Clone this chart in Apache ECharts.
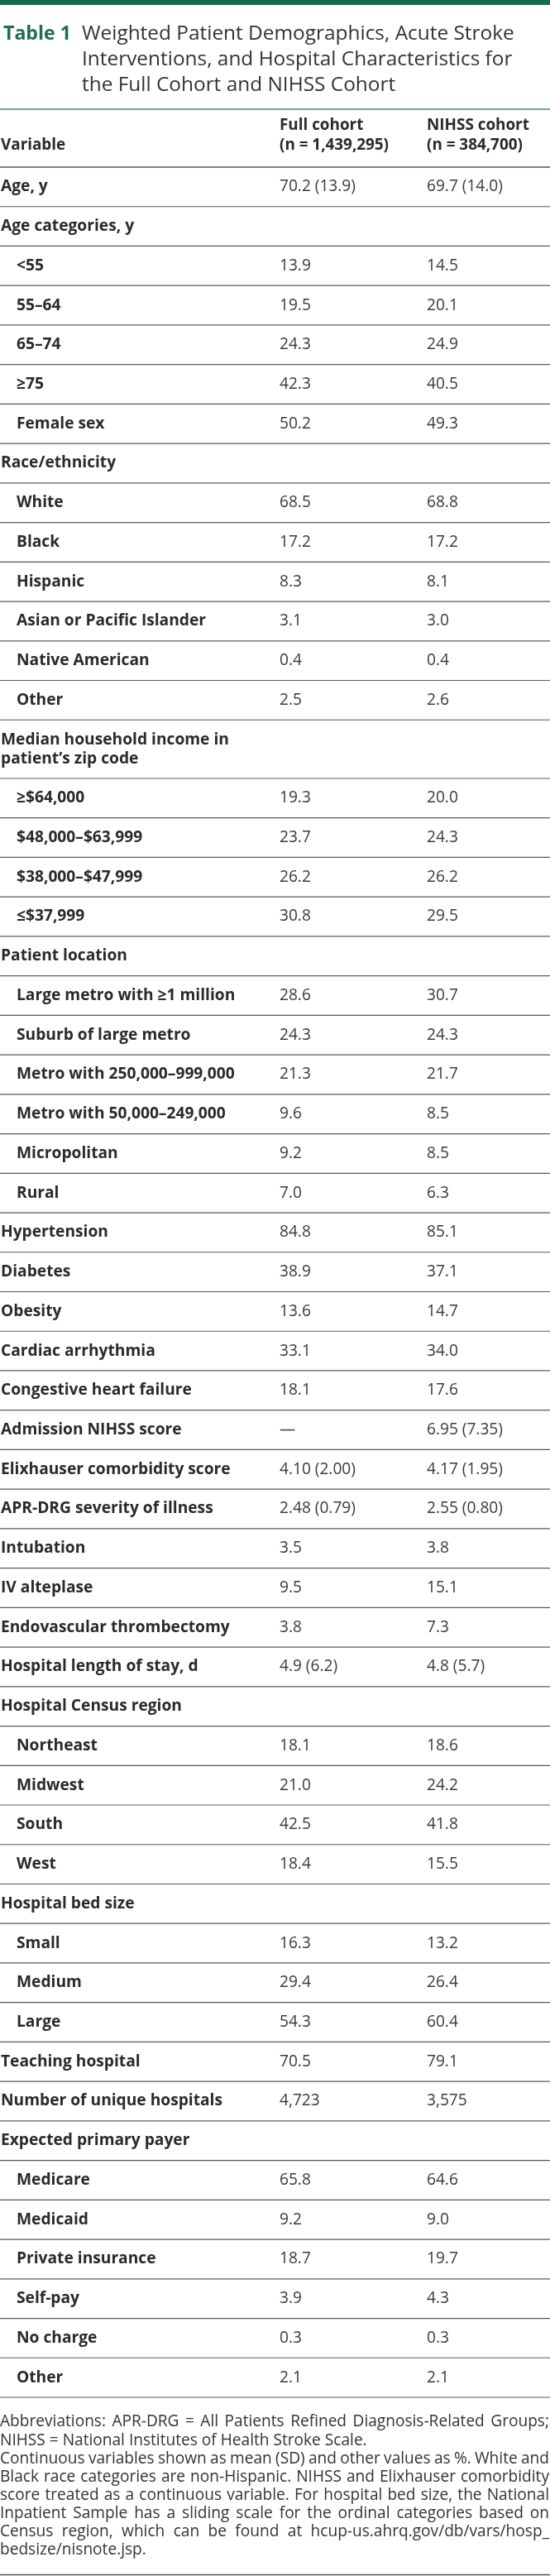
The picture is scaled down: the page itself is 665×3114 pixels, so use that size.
<!DOCTYPE html>
<html>
<head>
<meta charset="utf-8">
<script src="https://cdn.jsdelivr.net/npm/echarts@6/dist/echarts.min.js"></script>
<style>
html,body{margin:0;padding:0;background:#fff;}
#chart{width:665px;height:3114px;}
</style>
</head>
<body>
<div id="chart"></div>
<script>
// ---------- DATA ----------
const tableLabel = "Table 1";
const titleLines = [
  "Weighted Patient Demographics, Acute Stroke",
  "Interventions, and Hospital Characteristics for",
  "the Full Cohort and NIHSS Cohort"
];
const headerVariable = "Variable";
const headerFull = ["Full cohort", "(n = 1,439,295)"];
const headerNihss = ["NIHSS cohort", "(n = 384,700)"];

const rowLabels = [
  "Age, y","Age categories, y","<55","55–64","65–74","≥75","Female sex",
  "Race/ethnicity","White","Black","Hispanic","Asian or Pacific Islander","Native American","Other",
  "Median household income in\npatient’s zip code","≥$64,000","$48,000–$63,999","$38,000–$47,999","≤$37,999",
  "Patient location","Large metro with ≥1 million","Suburb of large metro","Metro with 250,000–999,000",
  "Metro with 50,000–249,000","Micropolitan","Rural",
  "Hypertension","Diabetes","Obesity","Cardiac arrhythmia","Congestive heart failure",
  "Admission NIHSS score","Elixhauser comorbidity score","APR-DRG severity of illness",
  "Intubation","IV alteplase","Endovascular thrombectomy","Hospital length of stay, d",
  "Hospital Census region","Northeast","Midwest","South","West",
  "Hospital bed size","Small","Medium","Large",
  "Teaching hospital","Number of unique hospitals",
  "Expected primary payer","Medicare","Medicaid","Private insurance","Self-pay","No charge","Other"
];
const rowLevel = [
  0,0,1,1,1,1,1,
  0,1,1,1,1,1,1,
  0,1,1,1,1,
  0,1,1,1,1,1,1,
  0,0,0,0,0,
  0,0,0,
  0,0,0,0,
  0,1,1,1,1,
  0,1,1,1,
  0,0,
  0,1,1,1,1,1,1
];
const fullCohort = [
  "70.2 (13.9)","","13.9","19.5","24.3","42.3","50.2",
  "","68.5","17.2","8.3","3.1","0.4","2.5",
  "","19.3","23.7","26.2","30.8",
  "","28.6","24.3","21.3","9.6","9.2","7.0",
  "84.8","38.9","13.6","33.1","18.1",
  "—","4.10 (2.00)","2.48 (0.79)",
  "3.5","9.5","3.8","4.9 (6.2)",
  "","18.1","21.0","42.5","18.4",
  "","16.3","29.4","54.3",
  "70.5","4,723",
  "","65.8","9.2","18.7","3.9","0.3","2.1"
];
const nihssCohort = [
  "69.7 (14.0)","","14.5","20.1","24.9","40.5","49.3",
  "","68.8","17.2","8.1","3.0","0.4","2.6",
  "","20.0","24.3","26.2","29.5",
  "","30.7","24.3","21.7","8.5","8.5","6.3",
  "85.1","37.1","14.7","34.0","17.6",
  "6.95 (7.35)","4.17 (1.95)","2.55 (0.80)",
  "3.8","15.1","7.3","4.8 (5.7)",
  "","18.6","24.2","41.8","15.5",
  "","13.2","26.4","60.4",
  "79.1","3,575",
  "","64.6","9.0","19.7","4.3","0.3","2.1"
];
const footnoteLines = [
  ["Abbreviations: APR-DRG = All Patients Refined Diagnosis-Related Groups;", true],
  ["NIHSS = National Institutes of Health Stroke Scale.", false],
  ["Continuous variables shown as mean (SD) and other values as %. White and", true],
  ["Black race categories are non-Hispanic. NIHSS and Elixhauser comorbidity", true],
  ["score treated as a continuous variable. For hospital bed size, the National", true],
  ["Inpatient Sample has a sliding scale for the ordinal categories based on", true],
  ["Census region, which can be found at hcup-us.ahrq.gov/db/vars/hosp_", true],
  ["bedsize/nisnote.jsp.", false]
];

// ---------- LAYOUT ----------
const W = 665;
const FONT = '"Open Sans", "Noto Sans", sans-serif';
const ctx = document.createElement('canvas').getContext('2d');
// choose font sizes so that reference strings get the widths they have in the picture
function fitSize(sample, weight, targetWidth) {
  ctx.font = weight + ' 100px ' + FONT;
  return +(100 * targetWidth / ctx.measureText(sample).width).toFixed(2);
}
const LABEL_PX = fitSize("Elixhauser comorbidity score", 'bold', 278);
const VALUE_PX = fitSize("4.10 (2.00)", 'normal', 92);
const HEAD_PX = fitSize("(n = 1,439,295)", 'bold', 132);
const TITLE_PX = fitSize(titleLines[0], 'normal', 523);
const TAG_PX = fitSize(tableLabel, 'bold', 82);
const FN_PX = fitSize(footnoteLines[1][0], 'normal', 444);

const extraLine = 23 / 47.75; // extra row height (in row units) per additional text line
const rowStart = [];
const rowEnd = [];
let acc = 0;
rowLabels.forEach((l) => {
  const lines = l.split('\n').length;
  rowStart.push(acc);
  acc += 1 + (lines - 1) * extraLine;
  rowEnd.push(acc);
});
const totalUnits = acc;

const COL_LABEL = 1, COL_SUB = 20, COL_FULL = 338, COL_NIHSS = 516;
const TABLE_TOP = 202, TABLE_BOTTOM = 2898;

const chart = echarts.init(document.getElementById('chart'), null, {renderer: 'canvas'});

const graphics = [];
graphics.push({type: 'rect', shape: {x: 0, y: 0, width: W, height: 6}, style: {fill: '#1b6b4b'}});
graphics.push({type: 'text', x: 4, y: 41, style: {text: tableLabel, font: 'bold ' + TAG_PX + 'px ' + FONT, fill: '#1e6f4d', verticalAlign: 'middle'}});
titleLines.forEach((t, i) => {
  graphics.push({type: 'text', x: 99, y: 41 + i * 30.8, style: {text: t, font: TITLE_PX + 'px ' + FONT, fill: '#333333', verticalAlign: 'middle'}});
});
graphics.push({type: 'line', shape: {x1: 0, y1: 132, x2: W, y2: 132}, style: {stroke: '#3f8c6e', lineWidth: 1.4}});
const headFont = 'bold ' + HEAD_PX + 'px ' + FONT;
graphics.push({type: 'text', x: COL_LABEL, y: 176, style: {text: headerVariable, font: headFont, fill: '#2a2a2a', verticalAlign: 'middle'}});
headerFull.forEach((t, i) => graphics.push({type: 'text', x: COL_FULL, y: 152 + i * 24, style: {text: t, font: headFont, fill: '#2a2a2a', verticalAlign: 'middle'}}));
headerNihss.forEach((t, i) => graphics.push({type: 'text', x: COL_NIHSS, y: 152 + i * 24, style: {text: t, font: headFont, fill: '#2a2a2a', verticalAlign: 'middle'}}));
graphics.push({type: 'line', shape: {x1: 0, y1: TABLE_TOP, x2: W, y2: TABLE_TOP}, style: {stroke: '#555555', lineWidth: 1.3}});

// footnote (justified word by word)
const FN_FONT = FN_PX + 'px ' + FONT;
ctx.font = FN_FONT;
const FN_TOP = 2928, FN_STEP = 22.1, FN_RIGHT = 664;
footnoteLines.forEach(([text, justify], i) => {
  const words = text.split(' ');
  const widths = words.map(w => ctx.measureText(w).width);
  const sum = widths.reduce((a, b) => a + b, 0);
  const gap = (justify && words.length > 1) ? (FN_RIGHT - sum) / (words.length - 1) : ctx.measureText(' ').width;
  let x = 0;
  words.forEach((w, k) => {
    graphics.push({type: 'text', x: x, y: FN_TOP + i * FN_STEP, style: {text: w, font: FN_FONT, fill: '#333333', verticalAlign: 'middle'}});
    x += widths[k] + gap;
  });
});
graphics.push({type: 'line', shape: {x1: 0, y1: 3112.5, x2: W, y2: 3112.5}, style: {stroke: '#555555', lineWidth: 1.5}});

const seriesData = rowLabels.map((l, i) => [i, rowStart[i], rowEnd[i]]);
const labelFont = 'bold ' + LABEL_PX + 'px ' + FONT;
const valueFont = VALUE_PX + 'px ' + FONT;

chart.setOption({
  animation: false,
  grid: {left: 0, right: 0, top: TABLE_TOP, bottom: 3114 - TABLE_BOTTOM, containLabel: false},
  xAxis: {type: 'value', min: 0, max: W, show: false},
  yAxis: {type: 'value', min: 0, max: totalUnits, inverse: true, show: false},
  graphic: graphics,
  series: [{
    type: 'custom',
    clip: false,
    data: seriesData,
    encode: {x: -1, y: [1, 2]},
    renderItem: function (params, api) {
      const i = api.value(0);
      const top = api.coord([0, api.value(1)]);
      const bot = api.coord([0, api.value(2)]);
      const left = api.coord([rowLevel[i] ? COL_SUB : COL_LABEL, 0])[0];
      const xFull = api.coord([COL_FULL, 0])[0];
      const xNihss = api.coord([COL_NIHSS, 0])[0];
      const xEnd = api.coord([W, 0])[0];
      const yMid = (top[1] + bot[1]) / 2;
      return {type: 'group', children: [
        {type: 'text', x: left, y: yMid, style: {text: rowLabels[i], font: labelFont, fill: '#2a2a2a', verticalAlign: 'middle', lineHeight: 23}},
        {type: 'text', x: xFull, y: yMid, style: {text: fullCohort[i], font: valueFont, fill: '#3a3a3a', verticalAlign: 'middle'}},
        {type: 'text', x: xNihss, y: yMid, style: {text: nihssCohort[i], font: valueFont, fill: '#3a3a3a', verticalAlign: 'middle'}},
        {type: 'line', shape: {x1: 0, y1: bot[1], x2: xEnd, y2: bot[1]}, style: {stroke: '#5a5a5a', lineWidth: 1.2}}
      ]};
    }
  }]
});
</script>
</body>
</html>
